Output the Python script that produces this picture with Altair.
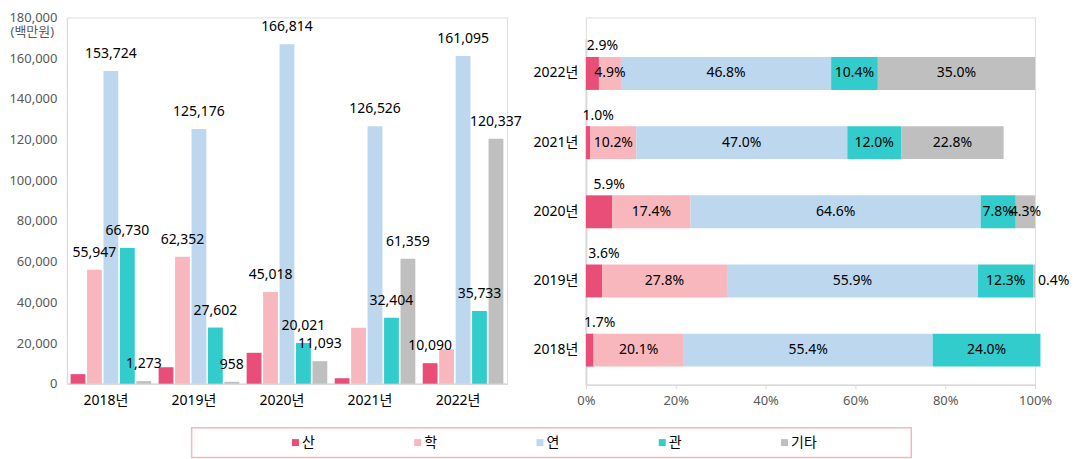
import altair as alt
import pandas as pd

years = ["2018년", "2019년", "2020년", "2021년", "2022년"]
cats = ["산", "학", "연", "관", "기타"]
colors = ["#E84E77", "#F7B7BD", "#BDD7EE", "#33CCCC", "#BFBFBF"]

# 금액 (백만원)
amt_san = [4700, 8100, 15200, 2700, 10090]
amt_hak = [55947, 62352, 45018, 27500, 16900]
amt_yeon = [153724, 125176, 166814, 126526, 161095]
amt_gwan = [66730, 27602, 20021, 32404, 35733]
amt_etc = [1273, 958, 11093, 61359, 120337]
# 값 표시 여부
show_san = [False, False, False, False, True]
show_hak = [True, True, True, False, False]
show_yeon = [True, True, True, True, True]
show_gwan = [True, True, True, True, True]
show_etc = [True, True, True, True, True]

# 비중 (%)
pct_san = [1.7, 3.6, 5.9, 1.0, 2.9]
pct_hak = [20.1, 27.8, 17.4, 10.2, 4.9]
pct_yeon = [55.4, 55.9, 64.6, 47.0, 46.8]
pct_gwan = [24.0, 12.3, 7.8, 12.0, 10.4]
pct_etc = [0.0, 0.4, 4.3, 22.8, 35.0]

amts = [amt_san, amt_hak, amt_yeon, amt_gwan, amt_etc]
shows = [show_san, show_hak, show_yeon, show_gwan, show_etc]
pcts = [pct_san, pct_hak, pct_yeon, pct_gwan, pct_etc]

rows_a, rows_p = [], []
for ci, c in enumerate(cats):
    for yi, y in enumerate(years):
        rows_a.append({"year": y, "cat": c, "amt": amts[ci][yi], "show": shows[ci][yi], "ord": ci})
        p = pcts[ci][yi]
        rows_p.append({"year": y, "cat": c, "pct": p, "ord": ci,
                       "label": (f"{p:.1f}%" if p > 0 else "")})
df_amt = pd.DataFrame(rows_a)
df_pct = pd.DataFrame(rows_p)
df_leg = pd.DataFrame({"cat": cats})

FONT = "Noto Sans, Noto Sans CJK KR"
GRAY = "#D9D9D9"
color_enc = alt.Color("cat:N", scale=alt.Scale(domain=cats, range=colors), legend=None)

# ---------------- left: amounts ----------------
xl = alt.X("year:N", sort=years,
           scale=alt.Scale(paddingInner=0.084, paddingOuter=0.042),
           axis=alt.Axis(title=None, labelOffset=-5, labelPadding=10, ticks=False,
                         domainColor=GRAY, domainWidth=1.5, labelColor="#000",
                         labelFontSize=14, labelAngle=0, labelFont=FONT))
xo = alt.XOffset("cat:N", sort=cats, scale=alt.Scale(paddingInner=0.1))
yl = alt.Y("amt:Q", scale=alt.Scale(domain=[0, 180000]),
           axis=alt.Axis(values=list(range(0, 180001, 20000)), format=",d",
                         title="(백만원)", titleAngle=0, titleAlign="left", titleX=-57,
                         titleY=14, titleBaseline="middle", titleFontSize=13,
                         titleFontWeight="normal", titleColor="#595959", titleFont=FONT,
                         labelColor="#595959", labelFontSize=13, labelPadding=10,
                         labelFont=FONT, ticks=False, domainColor=GRAY, grid=False,
                         labelFlush=False))

base_l = alt.Chart(df_amt)
bars_l = base_l.mark_bar().encode(x=xl, xOffset=xo, y=yl, color=color_enc)
text_l = base_l.transform_filter("datum.show").mark_text(
    baseline="middle", dy=-17, fontSize=14, font=FONT, color="#000"
).encode(x=xl, xOffset=xo, y=yl, text=alt.Text("amt:Q", format=",d"))
left = alt.layer(bars_l, text_l).properties(width=441, height=367)

# ---------------- right: shares ----------------
base_r = alt.Chart(df_pct).transform_stack(
    stack="pct", groupby=["year"], sort=[alt.SortField("ord")], as_=["x0", "x1"]
).transform_calculate(mid="(datum.x0 + datum.x1) / 2")

yr = alt.Y("year:N", sort=years[::-1],
           scale=alt.Scale(paddingInner=0.524, paddingOuter=0.262, range=[21.5, 368]),
           axis=alt.Axis(title=None, labelColor="#000", labelFontSize=14, labelFont=FONT,
                         labelPadding=8, ticks=False, domainColor=GRAY, domainWidth=2))
xr_axis = alt.Axis(title=None, values=[0, 20, 40, 60, 80, 100], labelExpr="datum.value + '%'",
                   tickSize=4, tickColor=GRAY, domainColor=GRAY, domainWidth=1.5,
                   labelColor="#595959", labelFontSize=13, labelFont=FONT, labelPadding=6,
                   labelFlush=False, grid=False)
xr_scale = alt.Scale(domain=[0, 100])

bars_r = base_r.mark_bar().encode(
    y=yr, x=alt.X("x0:Q", scale=xr_scale, axis=xr_axis), x2="x1:Q", color=color_enc)
text_in = base_r.transform_filter("datum.cat != '산' && datum.pct >= 1").mark_text(
    baseline="middle", fontSize=14, font=FONT, color="#000"
).encode(y=yr, x=alt.X("mid:Q", scale=xr_scale), text="label:N")
text_san = base_r.transform_filter("datum.cat == '산'").mark_text(
    baseline="middle", fontSize=14, font=FONT, color="#000", dx=10, dy=-27
).encode(y=yr, x=alt.X("mid:Q", scale=xr_scale), text="label:N")
text_out = base_r.transform_filter("datum.cat != '산' && datum.pct > 0 && datum.pct < 1").mark_text(
    baseline="middle", align="left", fontSize=14, font=FONT, color="#000", dx=3
).encode(y=yr, x=alt.X("x1:Q", scale=xr_scale), text="label:N")
right = alt.layer(bars_r, text_in, text_san, text_out).properties(width=450, height=368)

# ---------------- legend ----------------
leg_scale = alt.Scale(type="band", paddingInner=0, paddingOuter=0.443)
leg_base = alt.Chart(df_leg)
leg_sq = leg_base.mark_square(size=49, opacity=1).encode(
    x=alt.X("cat:N", sort=cats, scale=leg_scale, axis=None, bandPosition=0.406),
    color=color_enc)
leg_tx = leg_base.mark_text(align="left", baseline="middle", fontSize=14, font=FONT,
                            color="#000").encode(
    x=alt.X("cat:N", sort=cats, scale=leg_scale, axis=None, bandPosition=0.46),
    text="cat:N")
legend = alt.layer(leg_sq, leg_tx).properties(
    width=721, height=30, view=alt.ViewBackground(stroke="#F4B6BA", strokeWidth=1.5))
spacer = alt.Chart(df_leg).mark_point(opacity=0).properties(width=124, height=30)

top = alt.hconcat(left, right, spacing=9)
bottom = alt.hconcat(spacer, legend, spacing=0)
chart = alt.vconcat(top, bottom, spacing=18).properties(
    padding={"left": 0, "top": 2, "right": 0, "bottom": 0}
).configure_view(stroke=None).configure(font=FONT)

chart.save("out.html", embed_options={"renderer": "svg", "actions": False})
